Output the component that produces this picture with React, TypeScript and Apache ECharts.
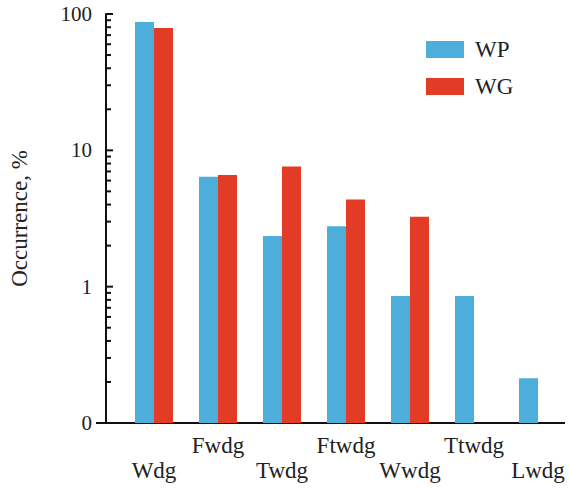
import React, { useEffect, useRef } from "react";
import * as echarts from "echarts";

const categories = ["Wdg", "Fwdg", "Twdg", "Ftwdg", "Wwdg", "Ttwdg", "Lwdg"];
const wpValues = [87.5, 6.4, 2.35, 2.77, 0.855, 0.855, 0.213];
const wgValues: (number | null)[] = [79, 6.6, 7.6, 4.35, 3.26, null, null];
const majorTicks = [0.1, 1, 10, 100];
const minorTicks = [
  0.2, 0.3, 0.4, 0.5, 0.6, 0.7, 0.8, 0.9,
  2, 3, 4, 5, 6, 7, 8, 9,
  20, 30, 40, 50, 60, 70, 80, 90,
];

const FONT = "Liberation Serif, Times New Roman, DejaVu Serif, serif";
const BLUE = "#4DAED9";
const RED = "#E23B26";
const AXIS_OFFSET = 16;

export default function App() {
  const ref = useRef<HTMLDivElement>(null);
  useEffect(() => {
    if (!ref.current) return;
    const chart = echarts.init(ref.current, null, { renderer: "svg" });
    const tickSeries = (name: string, values: number[], len: number) => ({
      name,
      type: "custom",
      clip: false,
      silent: true,
      z: 10,
      data: values.map((v) => [0, v]),
      renderItem: (params: any, api: any) => {
        const p = api.coord([0, api.value(1)]);
        const x0 = params.coordSys.x - AXIS_OFFSET;
        return {
          type: "line",
          shape: { x1: x0, y1: p[1], x2: x0 + len, y2: p[1] },
          style: { stroke: "#111", lineWidth: 2 },
        };
      },
    });
    chart.setOption({
      animation: false,
      backgroundColor: "#ffffff",
      textStyle: { fontFamily: FONT },
      grid: { left: 113, right: -8.5, top: 14, bottom: 65, containLabel: false },
      legend: {
        orient: "vertical",
        left: 421,
        top: 33,
        itemWidth: 38,
        itemHeight: 17,
        itemGap: 14,
        icon: "rect",
        textStyle: { fontFamily: FONT, fontSize: 23, color: "#222", padding: [0, 0, 0, 6] },
        data: ["WP", "WG"],
      },
      xAxis: {
        type: "category",
        data: categories,
        axisLine: { show: false },
        axisTick: { show: false },
        axisLabel: {
          interval: 0,
          margin: 10,
          fontFamily: FONT,
          fontSize: 23,
          color: "#222",
          lineHeight: 25,
          formatter: (v: string, i: number) => (i % 2 === 0 ? "\n" + v : v),
        },
      },
      yAxis: {
        type: "log",
        logBase: 10,
        min: 0.1,
        max: 100,
        startValue: 0.1,
        position: "left",
        offset: AXIS_OFFSET,
        name: "Occurrence, %",
        nameLocation: "middle",
        nameRotate: 90,
        nameGap: 66,
        nameTextStyle: { fontFamily: FONT, fontSize: 23, color: "#222", padding: [0, 0, 9, 0] },
        axisLine: { show: true, lineStyle: { color: "#111", width: 2 } },
        axisTick: { show: false },
        axisLabel: {
          margin: 14,
          fontFamily: FONT,
          fontSize: 21,
          color: "#222",
          formatter: (v: number) => (v < 1 ? "0" : String(Math.round(v))),
        },
        splitLine: { show: false },
      },
      graphic: [
        {
          type: "line",
          shape: { x1: 96, y1: 423, x2: 565, y2: 423 },
          style: { stroke: "#111", lineWidth: 2 },
        },
      ],
      series: [
        {
          name: "WP",
          type: "bar",
          data: wpValues,
          barWidth: 19,
          barGap: "0%",
          itemStyle: { color: BLUE },
        },
        {
          name: "WG",
          type: "bar",
          data: wgValues,
          barWidth: 19,
          barGap: "0%",
          itemStyle: { color: RED },
        },
        tickSeries("majorTicks", majorTicks, 7),
        tickSeries("minorTicks", minorTicks, 5),
      ],
    });
    return () => chart.dispose();
  }, []);
  return (
    <div
      ref={ref}
      style={{ position: "fixed", left: 0, top: 0, width: 570, height: 488, background: "#fff" }}
    />
  );
}
